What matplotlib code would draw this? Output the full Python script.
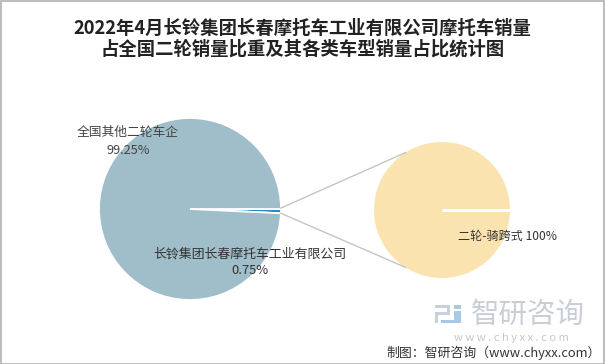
import matplotlib
matplotlib.use("Agg")
import matplotlib.pyplot as plt
import numpy as np
from matplotlib.patches import Rectangle

plt.rcParams['font.family'] = ['Noto Sans CJK SC', 'DejaVu Sans']

# ---- data ----
title_lines = ["2022年4月长铃集团长春摩托车工业有限公司摩托车销量",
               "占全国二轮销量比重及其各类车型销量占比统计图"]
main_labels = ["长铃集团长春摩托车工业有限公司", "全国其他二轮车企"]
main_values = [0.75, 99.25]
main_pct = ["0.75%", "99.25%"]
sub_labels = ["二轮-骑跨式"]
sub_values = [100]
sub_pct = ["100%"]

main_colors = ["#2b8cc4", "#a0bdca"]
sub_colors = ["#fae3af"]

W, H = 605, 364
fig = plt.figure(figsize=(W / 100, H / 100), dpi=100)
ax = fig.add_axes([0, 0, 1, 1])

c1, r1 = (190, 209), 91
c2, r2 = (442, 210), 68

ax.pie(main_values, colors=main_colors, startangle=0, counterclock=True,
       center=c1, radius=r1,
       wedgeprops=dict(edgecolor="white", linewidth=1.3))
ax.pie(sub_values, colors=sub_colors, startangle=0, counterclock=True,
       center=c2, radius=r2,
       wedgeprops=dict(edgecolor="white", linewidth=0))
# white start line on the full sub pie
ax.plot([c2[0], c2[0] + r2], [c2[1], c2[1]], color="white", lw=2.2, solid_capstyle="butt")

# connector lines
small_angle = main_values[0] / sum(main_values) * 2 * np.pi
p_top = (c1[0] + r1 * np.cos(0), c1[1] + r1 * np.sin(0) - 1)
p_bot = (c1[0] + r1 * np.cos(small_angle), c1[1] + r1 * np.sin(small_angle))
ang = np.deg2rad(122.5)
q_top = (c2[0] + r2 * np.cos(ang), c2[1] - r2 * np.sin(ang))
q_bot = (c2[0] + r2 * np.cos(ang), c2[1] + r2 * np.sin(ang))
ax.plot([p_top[0], q_top[0]], [p_top[1], q_top[1]], color="#c4c4c4", lw=1)
ax.plot([p_bot[0], q_bot[0]], [p_bot[1], q_bot[1]], color="#c4c4c4", lw=1)

ax.set_xlim(0, W)
ax.set_ylim(H, 0)
ax.set_aspect("equal")
ax.axis("off")

txt = "#333333"
# labels
ax.text(128, 132, main_labels[1], fontsize=9.2, color="#444444", ha="center", va="center")
ax.text(128, 151, main_pct[1], fontsize=9.2, color="#444444", ha="center", va="center")
ax.text(250, 254, main_labels[0], fontsize=9.3, color=txt, ha="center", va="center", fontweight="medium")
ax.text(250, 271, main_pct[0], fontsize=9.3, color=txt, ha="center", va="center", fontweight="medium")
ax.text(507, 236, f"{sub_labels[0]} {sub_pct[0]}", fontsize=8.7, color=txt, ha="center", va="center", fontweight="medium")

# title
ax.text(302.5, 28, title_lines[0], fontsize=13.2, fontweight="bold", color="#222222", ha="center", va="center")
ax.text(302.5, 49, title_lines[1], fontsize=13.2, fontweight="bold", color="#222222", ha="center", va="center")

# watermark logo
ax.add_patch(Rectangle((435, 305), 15, 3, color="#c8d0da", lw=0))
ax.add_patch(Rectangle((447, 305), 3, 10, color="#c8d0da", lw=0))
ax.add_patch(Rectangle((435, 312), 15, 3, color="#c8d0da", lw=0))
ax.add_patch(Rectangle((435, 312), 3, 11, color="#c8d0da", lw=0))
ax.add_patch(Rectangle((454, 305), 7, 4, color="#a8c8e8", lw=0))
ax.add_patch(Rectangle((454, 311), 7, 12, color="#a8c8e8", lw=0))
ax.add_patch(Rectangle((441, 320), 13, 3, color="#a8c8e8", lw=0))
ax.text(528, 315, "智研咨询", fontsize=20.5, color="#c8ced6", ha="center", va="center")
ax.text(511, 338, "w w w . c h y x x . c o m", fontsize=8, color="#c8c8c8", ha="center", va="center")
ax.text(601, 353, "制图：智研咨询（www.chyxx.com）", fontsize=9.3, color="#333333", ha="right", va="center")

# border
fig.patches.append(Rectangle((0.5 / W, 0.5 / H), 1 - 1.5 / W, 1 - 1.5 / H, transform=fig.transFigure,
                             fill=False, edgecolor="#b0b0b0", lw=1.2))

fig.savefig("out.png", dpi=100)
